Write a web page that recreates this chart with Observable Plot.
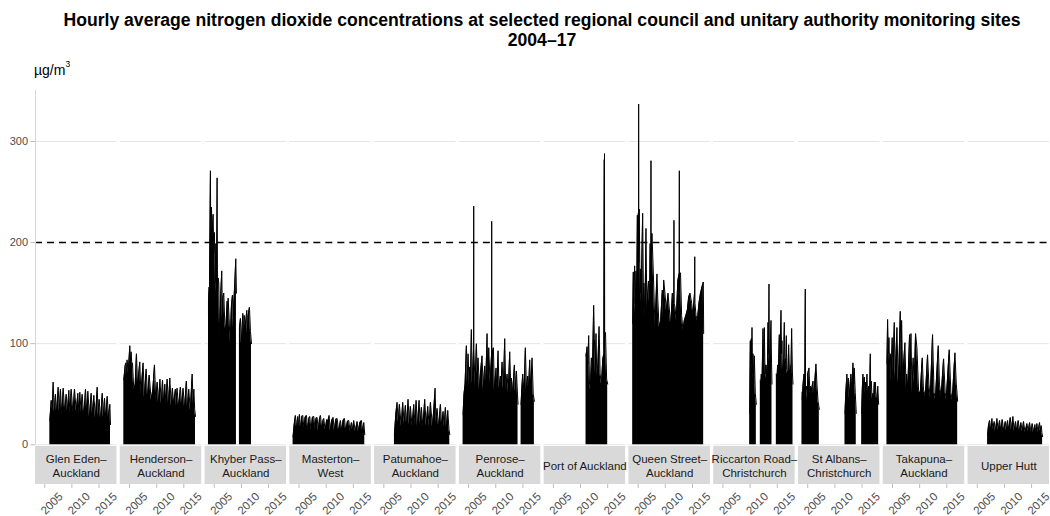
<!DOCTYPE html>
<html>
<head>
<meta charset="utf-8">
<script src="https://cdn.jsdelivr.net/npm/d3@7"></script>
<script src="https://cdn.jsdelivr.net/npm/@observablehq/plot@0.6"></script>
<style>
  body { margin: 0; background: #fff; }
  #chart { position: relative; width: 1050px; height: 516px; font-family: "Liberation Sans", Arial, sans-serif; }
  #title { position: absolute; left: 35px; width: 1014px; top: 10px; text-align: center; font-weight: bold; font-size: 17.6px; line-height: 20px; color: #000; z-index: 2; }
  #unit { position: absolute; left: 34px; top: 62px; font-size: 14px; line-height: 16px; color: #000; z-index: 2; }
  #unit sup { font-size: 8.5px; vertical-align: baseline; position: relative; top: -8px; }
  #plot { position: absolute; left: 0; top: 56px; z-index: 1; }
</style>
</head>
<body>
<div id="chart">
  <div id="plot"></div>
  <div id="title">Hourly average nitrogen dioxide concentrations at selected regional council and unitary authority monitoring sites<br>2004–17</div>
  <div id="unit">µg/m<sup>3</sup></div>
</div>
<script>
// Monitoring sites, one panel each
const sites = [
  "Glen Eden–\nAuckland", "Henderson–\nAuckland", "Khyber Pass–\nAuckland", "Masterton–\nWest",
  "Patumahoe–\nAuckland", "Penrose–\nAuckland", "Port of Auckland", "Queen Street–\nAuckland",
  "Riccarton Road–\nChristchurch", "St Albans–\nChristchurch", "Takapuna–\nAuckland", "Upper Hutt"
];

const xDomain = [2003.3, 2018.3];
const yDomain = [-39.3, 350.4];
const xTicks = [2005, 2010, 2015];
const yTicks = [0, 100, 200, 300];
const gridValues = [0, 100, 300];
const guideline = 200;          // hourly NO2 standard, µg/m³
const stripBand = [-1.7, -39.3]; // site label strip under each panel

// Hourly concentration envelopes per site: segments of [decimal year, µg/m³]
const glenEden = [[
  [2005.94, 24], [2006.2, 44], [2006.4, 35], [2006.55, 62], [2006.75, 32], [2006.98, 50], [2007.2, 30], [2007.47, 57],
  [2007.7, 33], [2007.9, 55], [2008.15, 29], [2008.4, 56], [2008.7, 31], [2008.95, 50], [2009.2, 33], [2009.44, 54],
  [2009.65, 30], [2009.87, 55], [2010.2, 31], [2010.48, 55], [2010.8, 33], [2011.1, 51], [2011.3, 30], [2011.46, 52],
  [2011.7, 32], [2011.89, 50], [2012.2, 28], [2012.51, 55], [2012.75, 31], [2012.94, 53], [2013.25, 27], [2013.55, 51],
  [2013.8, 30], [2014.04, 49], [2014.35, 26], [2014.66, 57], [2014.85, 28], [2015.02, 45], [2015.3, 24], [2015.58, 51],
  [2015.8, 27], [2016.01, 46], [2016.25, 25], [2016.5, 48], [2016.75, 27], [2016.99, 40], [2017.11, 20]
]];

const henderson = [[
  [2003.95, 64], [2004.2, 78], [2004.32, 81], [2004.45, 68], [2004.56, 84], [2004.75, 70], [2005.06, 98], [2005.2, 80],
  [2005.3, 92], [2005.45, 78], [2005.55, 81], [2005.79, 54], [2006.05, 60], [2006.28, 90], [2006.5, 58], [2006.89, 82],
  [2007.1, 50], [2007.5, 81], [2007.75, 47], [2008.06, 75], [2008.35, 45], [2008.62, 69], [2009.0, 44], [2009.3, 55],
  [2009.6, 79], [2009.85, 42], [2010.09, 62], [2010.35, 41], [2010.6, 65], [2010.85, 40], [2011.08, 64], [2011.3, 40],
  [2011.5, 60], [2011.7, 41], [2011.93, 65], [2012.2, 39], [2012.42, 66], [2012.7, 38], [2012.9, 56], [2013.14, 40],
  [2013.45, 55], [2013.6, 38], [2013.75, 56], [2014.05, 37], [2014.37, 57], [2014.6, 38], [2014.86, 56], [2015.15, 36],
  [2015.47, 63], [2015.7, 35], [2015.9, 55], [2016.2, 34], [2016.54, 70], [2016.7, 40], [2016.85, 55], [2017.0, 35],
  [2017.15, 28]
]];

const khyberPass = [
  [
    [2003.93, 141], [2004.05, 156], [2004.11, 150], [2004.29, 271], [2004.35, 200], [2004.48, 235], [2004.6, 210],
    [2004.79, 228], [2004.9, 190], [2005.03, 210], [2005.15, 160], [2005.28, 199], [2005.4, 150], [2005.52, 264],
    [2005.6, 150], [2005.71, 165], [2005.83, 160], [2006.01, 103], [2006.2, 150], [2006.38, 172], [2006.5, 125],
    [2006.57, 145], [2006.75, 150], [2006.93, 120], [2007.12, 113], [2007.36, 142], [2007.45, 120], [2007.55, 145],
    [2007.73, 125], [2007.91, 100], [2008.16, 138], [2008.35, 148], [2008.5, 115], [2008.59, 140], [2008.78, 160],
    [2008.96, 184], [2009.08, 150]
  ],
  [
    [2009.63, 115], [2009.82, 125], [2010.0, 100], [2010.25, 130], [2010.4, 105], [2010.5, 128], [2010.74, 118],
    [2010.99, 133], [2011.1, 110], [2011.23, 128], [2011.48, 136], [2011.66, 112], [2011.85, 100]
  ]
];

const masterton = [[
  [2003.9, 8], [2004.1, 20], [2004.33, 29], [2004.55, 16], [2004.75, 28], [2004.9, 17], [2005.07, 30], [2005.3, 15],
  [2005.5, 28], [2005.68, 29], [2005.9, 16], [2006.1, 27], [2006.36, 29], [2006.6, 15], [2006.8, 26], [2006.97, 28],
  [2007.2, 14], [2007.45, 27], [2007.71, 28], [2007.95, 15], [2008.1, 26], [2008.32, 27], [2008.55, 14], [2008.75, 25],
  [2008.94, 29], [2009.2, 15], [2009.4, 24], [2009.55, 26], [2009.8, 14], [2010.1, 25], [2010.3, 23], [2010.53, 29],
  [2010.75, 14], [2011.0, 24], [2011.27, 27], [2011.5, 14], [2011.75, 25], [2012.0, 26], [2012.3, 13], [2012.62, 24],
  [2012.85, 14], [2013.1, 24], [2013.36, 26], [2013.6, 13], [2013.9, 23], [2014.15, 24], [2014.4, 13], [2014.65, 22],
  [2014.85, 14], [2015.07, 24], [2015.35, 13], [2015.69, 23], [2015.9, 13], [2016.2, 22], [2016.49, 24], [2016.7, 13],
  [2016.92, 22], [2017.1, 10]
]];

const patumahoe = [[
  [2006.95, 10], [2007.2, 30], [2007.44, 42], [2007.65, 22], [2007.87, 40], [2008.2, 18], [2008.48, 42], [2008.75, 20],
  [2008.97, 39], [2009.2, 19], [2009.46, 45], [2009.7, 20], [2009.89, 38], [2010.2, 18], [2010.51, 40], [2010.75, 19],
  [2010.94, 44], [2011.2, 18], [2011.49, 44], [2011.7, 20], [2011.92, 37], [2012.2, 17], [2012.53, 45], [2012.8, 18],
  [2013.09, 38], [2013.35, 17], [2013.58, 42], [2013.95, 18], [2014.2, 35], [2014.44, 56], [2014.6, 20], [2014.8, 36],
  [2015.1, 17], [2015.42, 40], [2015.65, 18], [2015.91, 33], [2016.1, 17], [2016.34, 37], [2016.55, 16], [2016.77, 34],
  [2017.0, 15], [2017.14, 10]
]];

const penrose = [
  [
    [2003.98, 30], [2004.15, 50], [2004.35, 60], [2004.59, 98], [2004.8, 60], [2004.9, 90], [2005.1, 58], [2005.2, 77],
    [2005.35, 65], [2005.51, 114], [2005.7, 60], [2005.92, 95], [2005.94, 236], [2005.96, 95], [2006.2, 58],
    [2006.43, 100], [2006.6, 70], [2006.74, 86], [2007.0, 55], [2007.2, 72], [2007.47, 88], [2007.7, 55], [2007.96, 78],
    [2008.15, 58], [2008.4, 110], [2008.55, 65], [2008.71, 96], [2008.95, 60], [2009.23, 90], [2009.25, 221],
    [2009.27, 90], [2009.56, 96], [2009.75, 55], [2010.05, 76], [2010.2, 55], [2010.42, 93], [2010.6, 55], [2010.85, 68],
    [2011.0, 60], [2011.16, 82], [2011.4, 55], [2011.65, 105], [2011.85, 52], [2012.08, 70], [2012.3, 52], [2012.57, 92],
    [2012.8, 50], [2012.88, 66], [2013.1, 50], [2013.43, 79], [2013.6, 52], [2013.8, 73], [2014.0, 50], [2014.1, 40]
  ],
  [
    [2014.66, 40], [2014.8, 56], [2014.97, 70], [2015.2, 50], [2015.45, 96], [2015.65, 55], [2015.88, 68], [2016.05, 55],
    [2016.25, 84], [2016.45, 55], [2016.68, 86], [2016.9, 50], [2017.11, 43]
  ]
];

const portOfAuckland = [[
  [2011.01, 88], [2011.1, 92], [2011.2, 97], [2011.35, 80], [2011.5, 108], [2011.65, 60], [2011.8, 54], [2012.0, 86],
  [2012.2, 75], [2012.42, 138], [2012.55, 105], [2012.7, 70], [2012.85, 110], [2013.0, 65], [2013.2, 80], [2013.41, 117],
  [2013.6, 70], [2013.85, 60], [2014.1, 85], [2014.3, 90], [2014.36, 282], [2014.38, 95], [2014.41, 288], [2014.44, 110],
  [2014.6, 111], [2014.8, 65], [2015.0, 60]
]];

const queenStreet = [[
  [2003.99, 120], [2004.1, 171], [2004.2, 140], [2004.35, 177], [2004.5, 130], [2004.6, 172], [2004.75, 150],
  [2004.85, 227], [2004.95, 200], [2005.02, 229], [2005.08, 180], [2005.09, 337], [2005.1, 180], [2005.2, 233],
  [2005.35, 150], [2005.4, 174], [2005.55, 140], [2005.65, 175], [2005.83, 229], [2006.0, 130], [2006.05, 160],
  [2006.25, 125], [2006.44, 214], [2006.6, 133], [2006.9, 162], [2007.1, 140], [2007.2, 199], [2007.34, 190],
  [2007.36, 281], [2007.38, 190], [2007.55, 209], [2007.8, 169], [2008.1, 116], [2008.46, 169], [2008.6, 146],
  [2008.85, 116], [2009.15, 123], [2009.45, 153], [2009.6, 125], [2009.7, 163], [2009.95, 149], [2010.2, 133],
  [2010.5, 150], [2010.8, 130], [2011.0, 118], [2011.3, 150], [2011.55, 140], [2011.59, 222], [2011.63, 140],
  [2011.8, 136], [2012.0, 122], [2012.3, 162], [2012.56, 170], [2012.58, 271], [2012.6, 170], [2012.8, 170],
  [2013.0, 128], [2013.25, 113], [2013.5, 123], [2013.8, 128], [2014.05, 133], [2014.3, 146], [2014.55, 150],
  [2014.85, 140], [2015.1, 128], [2015.38, 150], [2015.42, 186], [2015.46, 140], [2015.65, 128], [2015.9, 123],
  [2016.2, 140], [2016.45, 149], [2016.75, 156], [2017.0, 161], [2017.06, 110]
]];

const riccartonRoad = [
  [
    [2009.92, 31], [2010.04, 103], [2010.12, 70], [2010.22, 105], [2010.3, 80], [2010.35, 116], [2010.45, 70],
    [2010.53, 90], [2010.65, 60], [2010.78, 88], [2010.96, 51], [2011.15, 40]
  ],
  [
    [2011.88, 64], [2011.98, 55], [2012.06, 70], [2012.2, 60], [2012.37, 115], [2012.5, 75], [2012.62, 116],
    [2012.75, 70], [2012.86, 79], [2013.0, 65], [2013.11, 79], [2013.2, 70], [2013.29, 121], [2013.4, 90],
    [2013.48, 159], [2013.55, 85], [2013.6, 79], [2013.7, 95], [2013.85, 123], [2013.95, 80], [2014.03, 60]
  ],
  [
    [2014.83, 70], [2014.95, 65], [2015.07, 79], [2015.2, 70], [2015.38, 109], [2015.5, 80], [2015.69, 133],
    [2015.8, 90], [2015.87, 103], [2015.95, 75], [2016.06, 76], [2016.2, 85], [2016.3, 121], [2016.4, 80],
    [2016.49, 85], [2016.6, 75], [2016.67, 108], [2016.8, 70], [2016.92, 73], [2017.0, 70], [2017.1, 99],
    [2017.25, 72], [2017.41, 74], [2017.55, 80], [2017.65, 115], [2017.8, 70], [2017.9, 60]
  ]
];

const stAlbans = [
  [
    [2003.94, 52], [2004.0, 45], [2004.12, 58], [2004.3, 70], [2004.45, 50], [2004.55, 154], [2004.6, 55],
    [2004.75, 58], [2004.95, 45], [2005.0, 70], [2005.24, 76], [2005.4, 50], [2005.49, 58], [2005.73, 55],
    [2005.98, 63], [2006.1, 45], [2006.22, 55], [2006.52, 80], [2006.7, 60], [2006.9, 43], [2007.14, 35]
  ],
  [
    [2011.86, 31], [2012.0, 50], [2012.22, 70], [2012.35, 50], [2012.47, 66], [2012.6, 45], [2012.71, 52],
    [2012.95, 70], [2013.1, 55], [2013.33, 81], [2013.5, 60], [2013.57, 76], [2013.75, 52], [2013.94, 31]
  ],
  [
    [2014.93, 31], [2015.05, 55], [2015.17, 70], [2015.3, 55], [2015.42, 67], [2015.55, 50], [2015.66, 62],
    [2015.8, 55], [2015.91, 70], [2016.05, 45], [2016.22, 58], [2016.4, 50], [2016.52, 90], [2016.6, 55],
    [2016.71, 63], [2016.85, 45], [2017.02, 51], [2017.15, 45], [2017.26, 62], [2017.35, 50], [2017.44, 62],
    [2017.6, 48], [2017.75, 43], [2017.9, 58], [2018.06, 40]
  ]
];

const takapuna = [[
  [2003.98, 80], [2004.1, 124], [2004.25, 90], [2004.35, 106], [2004.5, 70], [2004.6, 90], [2004.75, 62],
  [2004.95, 106], [2005.1, 70], [2005.33, 121], [2005.5, 65], [2005.57, 76], [2005.82, 116], [2006.05, 60],
  [2006.2, 80], [2006.43, 132], [2006.6, 70], [2006.68, 123], [2006.9, 60], [2007.0, 76], [2007.29, 101],
  [2007.5, 55], [2007.6, 70], [2007.8, 55], [2008.15, 109], [2008.25, 80], [2008.4, 110], [2008.6, 50], [2008.8, 86],
  [2009.0, 60], [2009.25, 110], [2009.5, 96], [2009.8, 54], [2010.1, 50], [2010.48, 86], [2010.7, 55], [2011.05, 48],
  [2011.46, 89], [2011.7, 60], [2011.95, 46], [2012.38, 109], [2012.65, 52], [2012.9, 45], [2013.43, 98],
  [2013.65, 60], [2013.95, 48], [2014.41, 85], [2014.7, 52], [2014.9, 45], [2015.45, 94], [2015.75, 52],
  [2016.0, 44], [2016.5, 91], [2016.75, 60], [2017.0, 43]
]];

const upperHutt = [[
  [2006.9, 10], [2007.05, 18], [2007.27, 24], [2007.5, 14], [2007.7, 26], [2007.9, 14], [2008.12, 23], [2008.35, 13],
  [2008.62, 26], [2008.85, 14], [2009.11, 24], [2009.35, 14], [2009.6, 25], [2009.9, 13], [2010.15, 23], [2010.35, 14],
  [2010.58, 24], [2010.8, 14], [2011.07, 27], [2011.3, 14], [2011.56, 28], [2011.8, 13], [2012.05, 23], [2012.3, 13],
  [2012.54, 24], [2012.8, 13], [2013.03, 22], [2013.3, 13], [2013.52, 23], [2013.8, 12], [2014.14, 21], [2014.4, 13],
  [2014.63, 22], [2014.9, 12], [2015.12, 21], [2015.35, 12], [2015.61, 20], [2015.8, 12], [2015.98, 21], [2016.2, 12],
  [2016.47, 22], [2016.6, 13], [2016.77, 19], [2016.9, 12], [2017.03, 8]
]];

const seriesBySite = [
  glenEden, henderson, khyberPass, masterton, patumahoe, penrose,
  portOfAuckland, queenStreet, riccartonRoad, stAlbans, takapuna, upperHutt
];

// Flatten into one tidy table: one row per reading, tagged with site and segment
const readings = seriesBySite.flatMap((segments, i) =>
  segments.flatMap((segment, s) =>
    segment.map(([year, value]) => ({site: sites[i], segment: `${i}-${s}`, year, value}))
  )
);

const tickRows = sites.flatMap((site) => xTicks.map((year) => ({site, year})));

const chart = Plot.plot({
  width: 1050,
  height: 460,
  marginTop: 34,
  marginBottom: 32,
  marginLeft: 35,
  marginRight: 1,
  style: {fontFamily: "'Liberation Sans', Arial, sans-serif", background: "#fff", overflow: "visible"},
  fx: {domain: sites, paddingInner: 0.039, paddingOuter: 0, round: false, axis: null, label: null},
  x: {domain: xDomain},
  y: {domain: yDomain},
  marks: [
    Plot.ruleY(gridValues, {stroke: "#e4e4e4", strokeWidth: 1}),
    Plot.areaY(readings, {fx: "site", x: "year", y: "value", z: "segment", fill: "#000"}),
    Plot.lineY(readings, {fx: "site", x: "year", y: "value", z: "segment", stroke: "#000", strokeWidth: 1}),
    Plot.ruleY([guideline], {stroke: "#000", strokeWidth: 1.6, strokeDasharray: "7,5"}),
    // label strips
    Plot.rect(sites, {fx: (d) => d, x1: xDomain[0], x2: xDomain[1], y1: stripBand[0], y2: stripBand[1], fill: "#d9d9d9"}),
    Plot.text(sites, {
      fx: (d) => d, x: (xDomain[0] + xDomain[1]) / 2, y: (stripBand[0] + stripBand[1]) / 2,
      text: (d) => d, fontSize: 11.5, lineHeight: 1.18, fill: "#1a1a1a"
    }),
    // y axis line on the first panel
    Plot.ruleX([sites[0]], {fx: (d) => d, x: () => xDomain[0], y1: yTicks[0], y2: yDomain[1], stroke: "#d6d6d6"}),
    Plot.axisY({ticks: yTicks, tickSize: 4.5, tickPadding: 3, stroke: "#bdbdbd", fill: "#4d4d4d", fontSize: 11, label: null}),
    Plot.axisX({ticks: xTicks, tickSize: 4, tickFormat: () => "", stroke: "#bdbdbd", label: null}),
    Plot.text(tickRows, {
      fx: "site", x: "year", text: (d) => String(d.year), frameAnchor: "bottom",
      rotate: -45, textAnchor: "middle", lineAnchor: "top", dx: 4, dy: 16,
      fontSize: 11.5, fill: "#4d4d4d"
    })
  ]
});

document.getElementById("plot").append(chart);
</script>
</body>
</html>
